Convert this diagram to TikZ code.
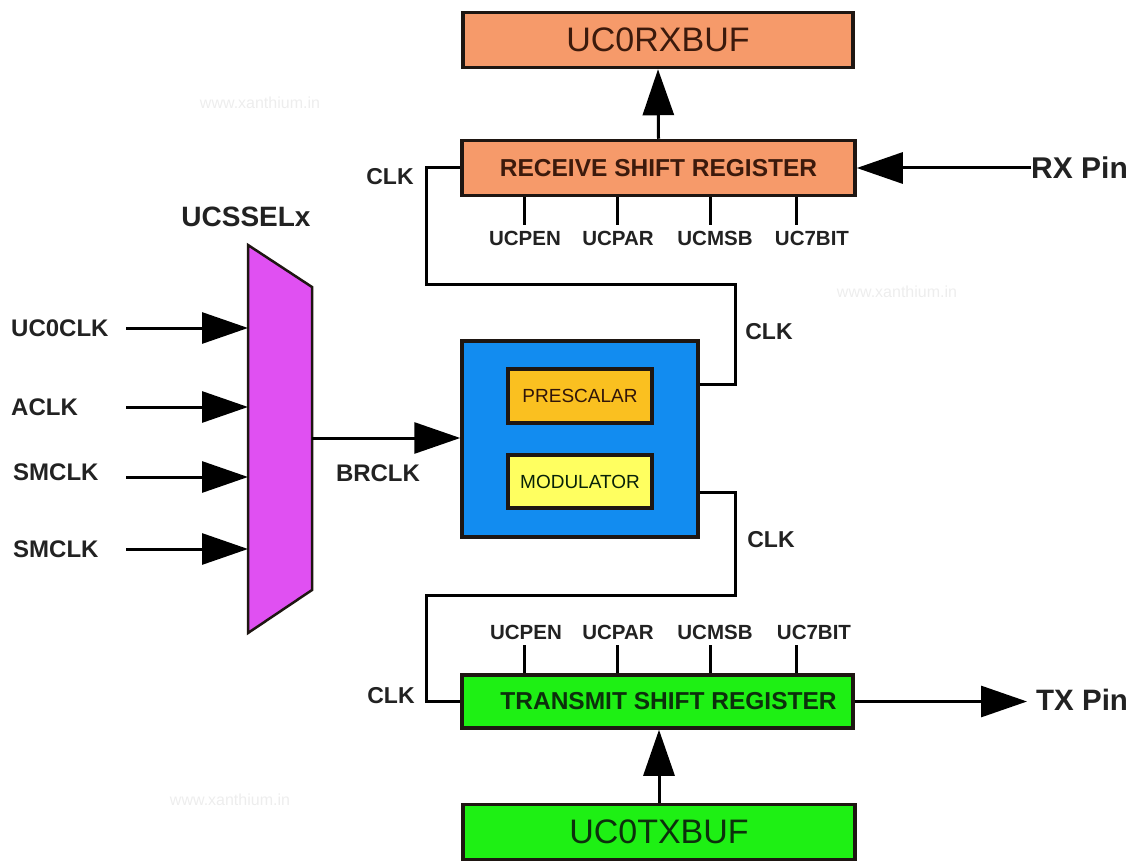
\documentclass[tikz,border=0pt]{standalone}
\usepackage{fontspec}
\setmainfont{Liberation Sans}
\usetikzlibrary{arrows.meta,calc}

\definecolor{rxorange}{RGB}{246,154,106}
\definecolor{txgreen}{RGB}{30,240,20}
\definecolor{brblue}{RGB}{18,140,240}
\definecolor{preorange}{RGB}{250,192,32}
\definecolor{modyellow}{RGB}{255,255,96}
\definecolor{muxpink}{RGB}{224,80,242}
\definecolor{edge}{RGB}{30,22,18}
\definecolor{rxtext}{RGB}{60,26,12}
\definecolor{txtext}{RGB}{12,48,12}
\definecolor{lbl}{RGB}{34,34,34}

\newcommand{\fs}[1]{\fontsize{#1}{#1}\selectfont}

\tikzset{
  regbox/.style={draw=edge, line width=3.5pt, rectangle, inner sep=0pt},
  wire/.style={draw=black, line width=3pt},
  arr/.style={wire, -{Triangle[length=46pt,width=31pt]}},
  tick/.style={draw=black, line width=3pt},
  lab/.style={text=lbl, font=\bfseries\fs{23}, inner sep=0pt},
  flag/.style={text=lbl, font=\bfseries\fs{20.5}, inner sep=0pt},
  wmark/.style={text=black!7, font=\fs{16}, inner sep=0pt}
}

\begin{document}
\begin{tikzpicture}[x=1pt,y=-1pt]
\useasboundingbox (0,0) rectangle (1140,861);

% faint site marks
\node[wmark] (wm1) at (260,103) {www.xanthium.in};
\node[wmark] (wm2) at (897,292) {www.xanthium.in};
\node[wmark] (wm3) at (230,800) {www.xanthium.in};

% receive path
\node[regbox, fill=rxorange, minimum width=390pt, minimum height=55pt,
      text=rxtext, font=\fs{34}] (rxbuf) at (658,40) {UC0RXBUF};
\node[regbox, fill=rxorange, minimum width=393pt, minimum height=55pt,
      text=rxtext, font=\bfseries\fs{24.5}] (rsr) at (658.5,168) {RECEIVE SHIFT REGISTER};
\draw[arr] (rsr.north) -- (rxbuf.south);

% transmit path
\node[regbox, fill=txgreen, minimum width=391pt, minimum height=53pt,
      text=txtext, font=\bfseries\fs{24.5}] (tsr) at (657.5,701.5) {\hspace*{22pt}TRANSMIT SHIFT REGISTER};
\node[regbox, fill=txgreen, minimum width=392pt, minimum height=55pt,
      text=txtext, font=\fs{34}] (txbuf) at (659,832) {UC0TXBUF};
\draw[arr] (txbuf.north -| 659,0) -- (tsr.south -| 659,0);

% baud rate generator
\node[regbox, fill=brblue, minimum width=236pt, minimum height=196pt] (brg) at (580,439) {};
\node[regbox, fill=preorange, minimum width=144pt, minimum height=54pt,
      text=rxtext!80!black, font=\fs{19}] (pre) at (580,396) {PRESCALAR};
\node[regbox, fill=modyellow, minimum width=144pt, minimum height=53pt,
      text=txtext!70!black, font=\fs{19}] (mod) at (580,481.5) {MODULATOR};

% clock source multiplexer
\coordinate (mtl) at (248,245);
\coordinate (mtr) at (312,287);
\coordinate (mbr) at (312,590);
\coordinate (mbl) at (248,633);
\draw[draw=edge, line width=2.5pt, fill=muxpink, line join=miter]
  (mtl) -- (mtr) -- (mbr) -- (mbl) -- cycle;
\node[lab, font=\bfseries\fs{28}] (ucssel) at (246,217) {UCSSELx};

% clock inputs
\node[lab, font=\bfseries\fs{24}, anchor=west] (l1) at (11,328) {UC0CLK};
\node[lab, font=\bfseries\fs{24}, anchor=west] (l2) at (11,407) {ACLK};
\node[lab, font=\bfseries\fs{24}, anchor=west] (l3) at (13,472) {SMCLK};
\node[lab, font=\bfseries\fs{24}, anchor=west] (l4) at (13,549) {SMCLK};
\coordinate (s1) at (126,328);
\coordinate (s2) at (126,407);
\coordinate (s3) at (126,477);
\coordinate (s4) at (126,549);
\draw[arr] (s1) -- (mtl |- s1);
\draw[arr] (s2) -- (mtl |- s2);
\draw[arr] (s3) -- (mtl |- s3);
\draw[arr] (s4) -- (mtl |- s4);

% mux output to the generator
\coordinate (mout) at (312,438);
\draw[arr] (mout) -- (brg.west |- mout);
\node[lab, font=\bfseries\fs{24}] (brclk) at (378,473) {BRCLK};

% bit clocks to the shift registers
\draw[wire, line join=miter] ($(brg.north east)+(0,45)$) -| (735,284) -| (426,168) -- (rsr.west);
\draw[wire, line join=miter] ($(brg.north east)+(0,153)$) -| (735,595) -| (426,701.5) -- (tsr.west);
\node[lab] (clk1) at (390,177) {CLK};
\node[lab] (clk2) at (769,332) {CLK};
\node[lab] (clk3) at (771,540) {CLK};
\node[lab] (clk4) at (391,696) {CLK};

% serial pins
\node[lab, font=\bfseries\fs{30}, anchor=west] (rxpin) at (1031,168) {RX Pin};
\draw[arr] (rxpin.west) -- (rsr.east);
\node[lab, font=\bfseries\fs{29.5}, anchor=west] (txpin) at (1036,700) {TX Pin};
\draw[arr] (tsr.east) -- ([xshift=-9pt]txpin.west |- tsr.east);

% control bits of the receive register
\node[flag] (rpen) at (525,238) {UCPEN};
\node[flag] (rpar) at (618,238) {UCPAR};
\node[flag] (rmsb) at (715,238) {UCMSB};
\node[flag] (r7b)  at (812,238) {UC7BIT};
\draw[tick] (rsr.south -| 524,0) -- (524,225);
\draw[tick] (rsr.south -| 617,0) -- (617,225);
\draw[tick] (rsr.south -| 710,0) -- (710,225);
\draw[tick] (rsr.south -| 796,0) -- (796,225);

% control bits of the transmit register
\node[flag] (tpen) at (526,632) {UCPEN};
\node[flag] (tpar) at (618,632) {UCPAR};
\node[flag] (tmsb) at (715,632) {UCMSB};
\node[flag] (t7b)  at (814,632) {UC7BIT};
\draw[tick] (tsr.north -| 524,0) -- (524,645);
\draw[tick] (tsr.north -| 617,0) -- (617,645);
\draw[tick] (tsr.north -| 710,0) -- (710,645);
\draw[tick] (tsr.north -| 796,0) -- (796,645);
\end{tikzpicture}
\end{document}
